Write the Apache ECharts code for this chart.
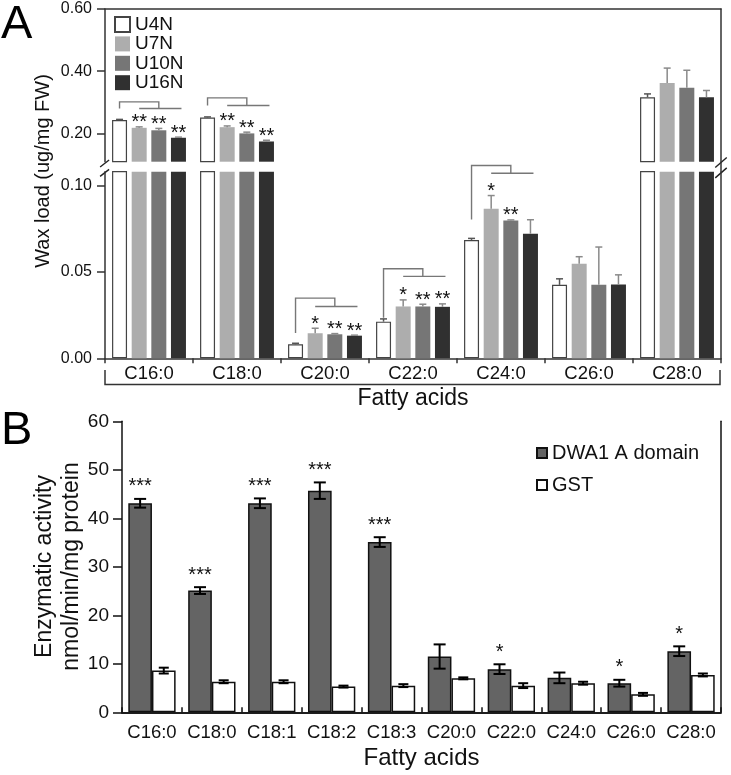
<!DOCTYPE html>
<html><head><meta charset="utf-8">
<script src="https://cdn.jsdelivr.net/npm/echarts@6/dist/echarts.min.js"></script>
<style>html,body{margin:0;padding:0;background:#fff}#c{width:731px;height:775px}</style>
</head><body><div id="c"></div><script>
// ---------- Panel A data ----------
const categoriesA = ['C16:0','C18:0','C20:0','C22:0','C24:0','C26:0','C28:0'];
const namesA = ['U4N','U7N','U10N','U16N'];
const u4n  = [0.243, 0.251, 0.0081, 0.0212, 0.0685, 0.0425, 0.316];
const u7n  = [0.218, 0.220, 0.0145, 0.0300, 0.0865, 0.0547, 0.362];
const u10n = [0.210, 0.200, 0.0139, 0.0300, 0.0797, 0.0425, 0.347];
const u16n = [0.186, 0.174, 0.0131, 0.0298, 0.0721, 0.0427, 0.316];
const u4nErr  = [0.002, 0.002, 0.0006, 0.0016, 0.0009, 0.0035, 0.011];
const u7nErr  = [0.003, 0.004, 0.0029, 0.0038, 0.0077, 0.0041, 0.048];
const u10nErr = [0.006, 0.004, 0.0004, 0.0013, 0.0004, 0.0219, 0.056];
const u16nErr = [0.002, 0.004, 0.0003, 0.0017, 0.0081, 0.0056, 0.022];
const u4nStars  = ['', '', '', '', '', '', ''];
const u7nStars  = ['**', '**', '*', '*', '*', '', ''];
const u10nStars = ['**', '**', '**', '**', '**', '', ''];
const u16nStars = ['**', '**', '**', '**', '', '', ''];
// significance brackets (category index, top, arm level, left-arm low end)
const bracketCats = [0, 1, 2, 3, 4];
const bracketTop  = [0.3014, 0.3143, 0.0348, 0.0518, 0.1116];
const bracketMid  = [0.2803, 0.2899, 0.0300, 0.0474, 0.1071];
const bracketLow  = [0.2803, 0.2899, 0.0147, 0.0234, 0.0803];
const upperTicksA = [0.20, 0.40, 0.60];
const lowerTicksA = [0.00, 0.05, 0.10];
const upperRangeA = [0.109, 0.60];
const lowerRangeA = [0, 0.108];

// ---------- Panel B data ----------
const categoriesB = ['C16:0','C18:0','C18:1','C18:2','C18:3','C20:0','C22:0','C24:0','C26:0','C28:0'];
const namesB = ['DWA1 A domain', 'GST'];
const dwa1    = [43.1, 25.1, 43.1, 45.7, 35.1, 11.5, 8.9, 7.1, 6.0, 12.6];
const dwa1Err = [0.9, 0.7, 1.0, 1.7, 1.0, 2.5, 1.0, 1.1, 0.7, 1.0];
const gst     = [8.6, 6.3, 6.3, 5.3, 5.5, 7.0, 5.5, 6.0, 3.7, 7.7];
const gstErr  = [0.6, 0.3, 0.3, 0.2, 0.3, 0.2, 0.5, 0.3, 0.3, 0.3];
const dwa1Stars = ['***','***','***','***','***','','*','','*','*'];
const gstStars  = ['','','','','','','','','',''];

// ---------- styles ----------
const FA = "'Liberation Sans', Arial, sans-serif";
const FB = FA;
const colorsA = ['#ffffff', '#adadad', '#767676', '#303030'];
const colorsB = ['#646464', '#ffffff'];
const axisA = '#333';
const axisB = '#111';

const valsA = [u4n, u7n, u10n, u16n];
const errsA = [u4nErr, u7nErr, u10nErr, u16nErr];
const starsA = [u4nStars, u7nStars, u10nStars, u16nStars];
const CAT_GAP_A = 0.16, BAR_GAP_A = 0.31;
const CAT_GAP_B = 0.21, BAR_GAP_B = 0;

function barOffset(api, idx, n, catGap, barGap) {
  const band = api.size([1, 0])[0];
  const w = band * (1 - catGap) / (n + (n - 1) * barGap);
  const total = n * w + (n - 1) * w * barGap;
  return -total / 2 + idx * w * (1 + barGap) + w / 2;
}

function errItemsA(range) {
  const items = [];
  for (let s = 0; s < 4; s++) for (let c = 0; c < categoriesA.length; c++) {
    const v = valsA[s][c];
    if (v >= range[0] && v < range[1]) items.push({ c, s, v, e: errsA[s][c], star: starsA[s][c] });
  }
  return items;
}
const errUpper = errItemsA([upperRangeA[0], 10]);
const errLower = errItemsA([-1, lowerRangeA[1]]);

function errSeriesA(items, xi, yi) {
  return {
    type: 'custom', xAxisIndex: xi, yAxisIndex: yi, silent: true, clip: false, z: 5,
    data: items.map(d => [d.c, d.v, d.e, d.s]),
    encode: { x: 0, y: 1 },
    renderItem: function (params, api) {
      const d = items[params.dataIndex];
      const base = api.coord([d.c, d.v]);
      const top = api.coord([d.c, d.v + d.e]);
      const x = base[0] + barOffset(api, d.s, 4, CAT_GAP_A, BAR_GAP_A);
      const col = d.s === 0 ? '#555' : '#8a8a8a';
      const ch = [
        { type: 'line', shape: { x1: x, y1: base[1], x2: x, y2: top[1] }, style: { stroke: col, lineWidth: 1.5 } },
        { type: 'line', shape: { x1: x - 3.5, y1: top[1], x2: x + 3.5, y2: top[1] }, style: { stroke: col, lineWidth: 1.5 } }
      ];
      if (d.star) ch.push({ type: 'text', style: { text: d.star, x: x, y: top[1] - 4, align: 'center', verticalAlign: 'middle', font: '20px ' + FA, fill: '#111' } });
      return { type: 'group', children: ch };
    }
  };
}

function bracketSeries(xi, yi, which) {
  const idx = [];
  bracketCats.forEach((c, k) => { if (which(k)) idx.push(k); });
  return {
    type: 'custom', xAxisIndex: xi, yAxisIndex: yi, silent: true, clip: false, z: 4,
    data: idx.map(k => [bracketCats[k], bracketTop[k]]),
    encode: { x: 0, y: 1 },
    renderItem: function (params, api) {
      const k = idx[params.dataIndex];
      const c = bracketCats[k];
      const cx = api.coord([c, bracketTop[k]])[0];
      const yT = api.coord([c, bracketTop[k]])[1];
      const yM = api.coord([c, bracketMid[k]])[1];
      const yL = api.coord([c, bracketLow[k]])[1];
      const o0 = barOffset(api, 0, 4, CAT_GAP_A, BAR_GAP_A);
      const o1 = barOffset(api, 1, 4, CAT_GAP_A, BAR_GAP_A);
      const o3 = barOffset(api, 3, 4, CAT_GAP_A, BAR_GAP_A);
      const xL = cx + o0, xMid = cx + (o1 + o3) / 2;
      const st = { stroke: '#777', lineWidth: 1.4, fill: null };
      return { type: 'group', children: [
        { type: 'polyline', shape: { points: [[xL, yL], [xL, yT], [xMid, yT], [xMid, yM]] }, style: st },
        { type: 'line', shape: { x1: cx + o1, y1: yM, x2: cx + o3 + 3, y2: yM }, style: st }
      ] };
    }
  };
}

function errSeriesB() {
  const items = [];
  [[dwa1, dwa1Err, dwa1Stars], [gst, gstErr, gstStars]].forEach((arr, s) => {
    for (let c = 0; c < categoriesB.length; c++) items.push({ c, s, v: arr[0][c], e: arr[1][c], star: arr[2][c] });
  });
  return {
    type: 'custom', xAxisIndex: 3, yAxisIndex: 4, silent: true, clip: false, z: 5,
    data: items.map(d => [d.c, d.v, d.e, d.s]),
    encode: { x: 0, y: 1 },
    renderItem: function (params, api) {
      const d = items[params.dataIndex];
      const hi = api.coord([d.c, d.v + d.e]);
      const lo = api.coord([d.c, d.v - d.e]);
      const x = hi[0] + barOffset(api, d.s, 2, CAT_GAP_B, BAR_GAP_B);
      const hw = d.s === 0 ? 6 : 5;
      const st = { stroke: '#000', lineWidth: 2 };
      const ch = [
        { type: 'line', shape: { x1: x, y1: hi[1], x2: x, y2: lo[1] }, style: st },
        { type: 'line', shape: { x1: x - hw, y1: hi[1], x2: x + hw, y2: hi[1] }, style: st },
        { type: 'line', shape: { x1: x - hw, y1: lo[1], x2: x + hw, y2: lo[1] }, style: st }
      ];
      if (d.star) ch.push({ type: 'text', style: { text: d.star, x: x, y: hi[1] - 12, align: 'center', verticalAlign: 'middle', font: '20px ' + FB, fill: '#111' } });
      return { type: 'group', children: ch };
    }
  };
}

// ---------- layout ----------
const GA_UP = { left: 105, right: 10, top: 9, height: 152.7 };
const GA_LO = { left: 105, right: 10, top: 171.7, height: 186.6 };
const GB = { left: 122, right: 10, top: 421.3, height: 291 };

const hidden = { show: false };
const lineOnly = (col, w) => ({ axisLine: { show: true, lineStyle: { color: col, width: w } }, axisTick: hidden, axisLabel: hidden, splitLine: hidden });

const series = [];
namesA.forEach((n, s) => {
  const st = { color: colorsA[s], borderColor: s === 0 ? '#444' : colorsA[s], borderWidth: s === 0 ? 1.2 : 0 };
  series.push({ name: n, type: 'bar', xAxisIndex: 0, yAxisIndex: 0, barGap: (BAR_GAP_A*100)+'%', barCategoryGap: (CAT_GAP_A*100)+'%',
    data: valsA[s].map(v => v >= upperRangeA[0] ? v : '-'), itemStyle: st, silent: true, clip: true });
  series.push({ name: n, type: 'bar', xAxisIndex: 2, yAxisIndex: 2, barGap: (BAR_GAP_A*100)+'%', barCategoryGap: (CAT_GAP_A*100)+'%',
    data: valsA[s].slice(), itemStyle: st, silent: true, clip: true });
});
series.push(errSeriesA(errUpper, 0, 0));
series.push(errSeriesA(errLower, 2, 2));
series.push(bracketSeries(0, 0, k => bracketLow[k] >= upperRangeA[0]));
series.push(bracketSeries(2, 2, k => bracketLow[k] < upperRangeA[0]));
[dwa1, gst].forEach((arr, s) => {
  series.push({ name: namesB[s], type: 'bar', xAxisIndex: 3, yAxisIndex: 4, barGap: '0%', barCategoryGap: (CAT_GAP_B*100)+'%',
    data: arr.slice(), itemStyle: { color: colorsB[s], borderColor: '#111', borderWidth: 1.5 }, silent: true });
});
series.push(errSeriesB());

// decorations
const upBottom = GA_UP.top + GA_UP.height, loTop = GA_LO.top;
const rightX = 731 - GA_UP.right;
const slash = (cx, cy, dx, dy) => ({ type: 'line', shape: { x1: cx - dx/2, y1: cy + dy/2, x2: cx + dx/2, y2: cy - dy/2 }, style: { stroke: '#222', lineWidth: 1.4 } });
const graphic = [
  { type: 'text', left: 1, top: 2, style: { text: 'A', font: '47px ' + FA, fill: '#000' } },
  { type: 'text', left: 1, top: 408, style: { text: 'B', font: '47px ' + FA, fill: '#000' } },
  { type: 'text', x: 43, y: 171, rotation: Math.PI / 2, style: { text: 'Wax load (ug/mg FW)', font: '20px ' + FA, fill: '#111', align: 'center', verticalAlign: 'middle' } },
  { type: 'text', x: 58.5, y: 566.5, rotation: Math.PI / 2, style: { text: 'Enzymatic activity\nnmol/min/mg protein', font: '23px ' + FB, lineHeight: 27, fill: '#111', align: 'center', verticalAlign: 'middle' } },
  slash(104.6, upBottom + 1.8, 9, 7), slash(104.6, loTop + 1.2, 9, 7),
  slash(rightX, upBottom + 0.8, 11.5, 10), slash(rightX, loTop + 1.2, 11.5, 10),
  { type: 'line', shape: { x1: rightX, y1: upBottom, x2: rightX, y2: loTop }, style: { stroke: axisA, lineWidth: 1.5 } },
  { type: 'polyline', shape: { points: [[GA_LO.left, 370], [GA_LO.left, 384.5], [rightX - 1, 384.5], [rightX - 1, 370]] }, style: { stroke: axisA, lineWidth: 1.5, fill: null } }
];

const option = {
  animation: false,
  backgroundColor: '#fff',
  grid: [GA_UP, GA_LO, GB],
  legend: [
    { data: namesA, orient: 'vertical', left: 114, top: 15, padding: 0, itemWidth: 15, itemHeight: 15, itemGap: 0.4, icon: 'rect',
      selectedMode: false, textStyle: { fontFamily: FA, fontSize: 19, color: '#111' } },
    { data: namesB, orient: 'vertical', left: 536, top: 443, padding: 0, itemWidth: 10, itemHeight: 10, itemGap: 12, icon: 'rect',
      selectedMode: false, textStyle: { fontFamily: FB, fontSize: 20, color: '#111' } }
  ],
  xAxis: [
    Object.assign({ type: 'category', gridIndex: 0, data: categoriesA, position: 'bottom' }, { axisLine: hidden, axisTick: hidden, axisLabel: hidden, splitLine: hidden }),
    Object.assign({ type: 'category', gridIndex: 0, data: categoriesA, position: 'top' }, lineOnly(axisA, 1.5)),
    { type: 'category', gridIndex: 1, data: categoriesA, position: 'bottom',
      axisLine: { lineStyle: { color: axisA, width: 1.5 } },
      axisTick: { show: true, length: 5, lineStyle: { color: axisA, width: 1.5 } },
      axisLabel: { interval: 0, fontFamily: FA, fontSize: 18.5, color: '#111', margin: 6 },
      name: 'Fatty acids', nameLocation: 'middle', nameGap: 29, nameTextStyle: { fontFamily: FA, fontSize: 23, color: '#111' } },
    { type: 'category', gridIndex: 2, data: categoriesB, position: 'bottom',
      axisLine: { lineStyle: { color: axisB, width: 1.5 } },
      axisTick: { show: true, inside: true, length: 5, lineStyle: { color: axisB, width: 1.5 } },
      axisLabel: { interval: 0, fontFamily: FB, fontSize: 18.5, color: '#111', margin: 11 },
      name: 'Fatty acids', nameLocation: 'middle', nameGap: 34, nameTextStyle: { fontFamily: FB, fontSize: 24, color: '#111' } },
    Object.assign({ type: 'category', gridIndex: 2, data: categoriesB, position: 'top' }, lineOnly(axisB, 1.5))
  ],
  yAxis: [
    { type: 'value', gridIndex: 0, min: upperRangeA[0], max: upperRangeA[1],
      axisLine: { show: true, lineStyle: { color: axisA, width: 1.5 } },
      axisTick: { show: true, length: 8, customValues: upperTicksA, lineStyle: { color: axisA, width: 1.5 } },
      axisLabel: { customValues: upperTicksA, formatter: v => v.toFixed(2), fontFamily: FA, fontSize: 16, color: '#111', margin: 13 },
      splitLine: hidden },
    Object.assign({ type: 'value', gridIndex: 0, min: upperRangeA[0], max: upperRangeA[1], position: 'right' }, lineOnly(axisA, 1.5)),
    { type: 'value', gridIndex: 1, min: lowerRangeA[0], max: lowerRangeA[1],
      axisLine: { show: true, lineStyle: { color: axisA, width: 1.5 } },
      axisTick: { show: true, length: 8, customValues: lowerTicksA, lineStyle: { color: axisA, width: 1.5 } },
      axisLabel: { customValues: lowerTicksA, formatter: v => v.toFixed(2), fontFamily: FA, fontSize: 16, color: '#111', margin: 13 },
      splitLine: hidden },
    Object.assign({ type: 'value', gridIndex: 1, min: lowerRangeA[0], max: lowerRangeA[1], position: 'right' }, lineOnly(axisA, 1.5)),
    { type: 'value', gridIndex: 2, min: 0, max: 60, interval: 10,
      axisLine: { show: true, lineStyle: { color: axisB, width: 1.5 } },
      axisTick: { show: true, length: 9, lineStyle: { color: axisB, width: 1.5 } },
      axisLabel: { fontFamily: FB, fontSize: 19, color: '#111', margin: 13 },
      splitLine: hidden },
    Object.assign({ type: 'value', gridIndex: 2, min: 0, max: 60, position: 'right' }, lineOnly(axisB, 1.5))
  ],
  graphic: graphic,
  series: series
};
const chart = echarts.init(document.getElementById('c'), null, { renderer: 'canvas' });
chart.setOption(option);
</script></body></html>
